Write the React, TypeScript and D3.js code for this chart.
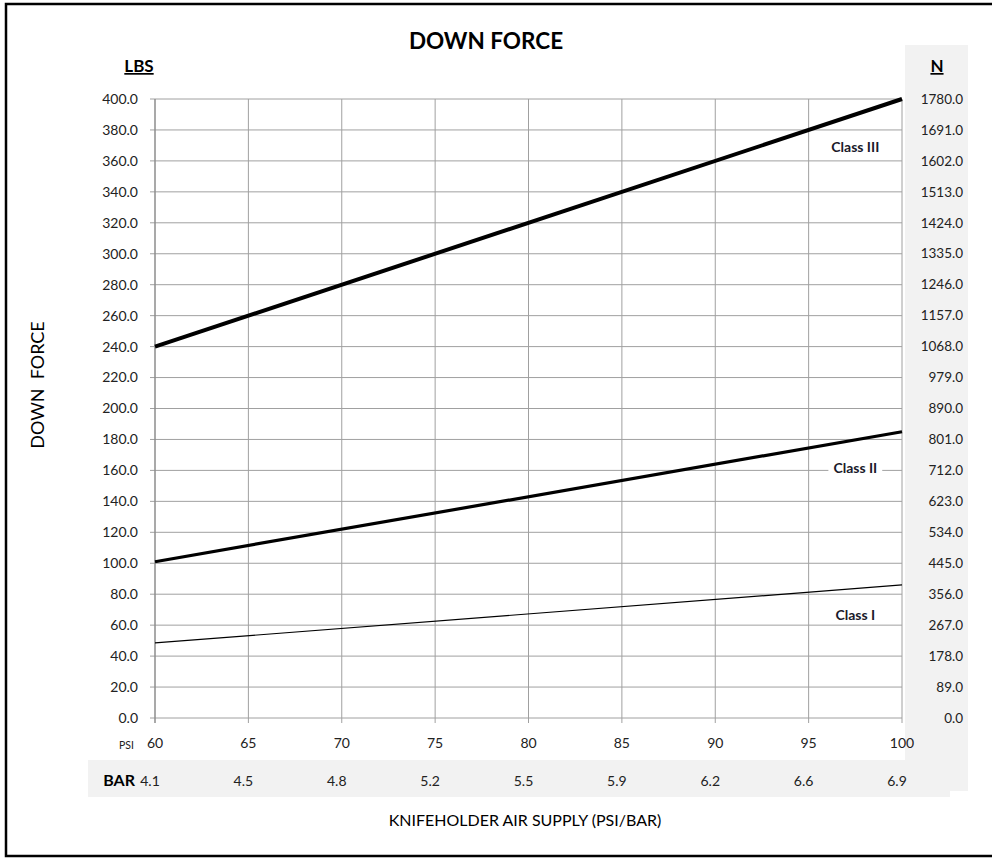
import * as d3 from "d3";
import { useEffect, useRef } from "react";

// PSI axis ticks and matching BAR labels
const psiTicks = [60, 65, 70, 75, 80, 85, 90, 95, 100];
const barLabels = ["4.1", "4.5", "4.8", "5.2", "5.5", "5.9", "6.2", "6.6", "6.9"];

// LBS axis ticks, N = LBS * 4.45
const lbsTicks = [0, 20, 40, 60, 80, 100, 120, 140, 160, 180, 200, 220, 240, 260, 280, 300, 320, 340, 360, 380, 400];
const newtonPerLb = 4.45;

// series: down force (lbs) at 60 and 100 psi
const classI = [
  { psi: 60, lbs: 48.5 },
  { psi: 100, lbs: 86 },
];
const classII = [
  { psi: 60, lbs: 101 },
  { psi: 100, lbs: 185 },
];
const classIII = [
  { psi: 60, lbs: 240 },
  { psi: 100, lbs: 400 },
];

const seriesNames = ["Class I", "Class II", "Class III"];
const seriesData = [classI, classII, classIII];
const seriesWidths = [1.2, 3.2, 4];
// label anchor points in data units
const labelAnchors = [
  { psi: 97.5, lbs: 66.5 },
  { psi: 97.5, lbs: 161.5 },
  { psi: 97.5, lbs: 369 },
];

const FONT = "Lato, 'Open Sans', sans-serif";

export default function App() {
  const ref = useRef<SVGSVGElement>(null);

  useEffect(() => {
    if (!ref.current) return;
    const width = 992;
    const height = 859;
    const svg = d3.select(ref.current);
    svg.selectAll("*").remove();
    svg.attr("width", width).attr("height", height);

    const x = d3.scaleLinear().domain([60, 100]).range([155, 902]);
    const y = d3.scaleLinear().domain([0, 400]).range([718, 99]);

    // outer frame
    svg
      .append("rect")
      .attr("x", 6)
      .attr("y", 4)
      .attr("width", 1000)
      .attr("height", 852)
      .attr("fill", "white")
      .attr("stroke", "black")
      .attr("stroke-width", 2.5);

    // grey panels (right N axis, BAR row)
    svg
      .append("rect")
      .attr("x", 905)
      .attr("y", 45)
      .attr("width", 63)
      .attr("height", 746)
      .attr("fill", "#f2f2f2");
    svg
      .append("rect")
      .attr("x", 88)
      .attr("y", 760)
      .attr("width", 862)
      .attr("height", 37)
      .attr("fill", "#f2f2f2");
    // white strip under PSI labels
    svg
      .append("rect")
      .attr("x", 88)
      .attr("y", 719)
      .attr("width", 817)
      .attr("height", 41)
      .attr("fill", "white");

    const grid = svg.append("g");
    // horizontal gridlines
    grid
      .selectAll("line.h")
      .data(lbsTicks)
      .enter()
      .append("line")
      .attr("x1", 150)
      .attr("x2", x(100))
      .attr("y1", (d) => y(d))
      .attr("y2", (d) => y(d))
      .attr("stroke", "#a0a0a0")
      .attr("stroke-width", 1);
    // vertical gridlines
    grid
      .selectAll("line.v")
      .data(psiTicks)
      .enter()
      .append("line")
      .attr("x1", (d) => x(d))
      .attr("x2", (d) => x(d))
      .attr("y1", y(400))
      .attr("y2", y(0) + 5)
      .attr("stroke", (d, i) => (i === 0 ? "#8c8c8c" : "#a0a0a0"))
      .attr("stroke-width", (d, i) => (i === 0 ? 1.5 : 1));

    // series lines
    const line = d3
      .line<{ psi: number; lbs: number }>()
      .x((d) => x(d.psi))
      .y((d) => y(d.lbs));
    seriesData.forEach((s, i) => {
      svg
        .append("path")
        .attr("d", line(s) as string)
        .attr("fill", "none")
        .attr("stroke", "black")
        .attr("stroke-width", seriesWidths[i]);
    });

    // series labels
    seriesNames.forEach((name, i) => {
      const a = labelAnchors[i];
      const g = svg.append("g").attr("transform", `translate(${x(a.psi)},${y(a.lbs)})`);
      const t = g
        .append("text")
        .text(name)
        .attr("text-anchor", "middle")
        .attr("dy", "0.35em")
        .attr("font-family", FONT)
        .attr("font-weight", "bold")
        .attr("font-size", 14)
        .attr("fill", "#1a1a2a");
      const bb = (t.node() as SVGTextElement).getBBox();
      g.insert("rect", "text")
        .attr("x", bb.x - 5)
        .attr("y", bb.y + 1)
        .attr("width", bb.width + 10)
        .attr("height", bb.height - 2)
        .attr("fill", "white");
    });

    const textColor = "#222";

    // left axis labels (LBS)
    svg
      .selectAll("text.lbs")
      .data(lbsTicks)
      .enter()
      .append("text")
      .attr("x", 138)
      .attr("y", (d) => y(d))
      .attr("dy", "0.35em")
      .attr("text-anchor", "end")
      .attr("font-family", FONT)
      .attr("font-size", 14)
      .attr("fill", textColor)
      .text((d) => d3.format(".1f")(d));

    // right axis labels (N)
    svg
      .selectAll("text.n")
      .data(lbsTicks)
      .enter()
      .append("text")
      .attr("x", 963)
      .attr("y", (d) => y(d))
      .attr("dy", "0.35em")
      .attr("text-anchor", "end")
      .attr("font-family", FONT)
      .attr("font-size", 13.5)
      .attr("fill", textColor)
      .text((d) => d3.format(".1f")(d * newtonPerLb));

    // PSI labels
    svg
      .selectAll("text.psi")
      .data(psiTicks)
      .enter()
      .append("text")
      .attr("x", (d) => x(d))
      .attr("y", 748)
      .attr("text-anchor", "middle")
      .attr("font-family", FONT)
      .attr("font-size", 14)
      .attr("fill", textColor)
      .text((d) => d);
    svg
      .append("text")
      .attr("x", 134)
      .attr("y", 749)
      .attr("text-anchor", "end")
      .attr("font-family", FONT)
      .attr("font-size", 10.5)
      .attr("fill", textColor)
      .text("PSI");

    // BAR labels
    svg
      .selectAll("text.bar")
      .data(barLabels)
      .enter()
      .append("text")
      .attr("x", (d, i) => x(psiTicks[i]) - 5)
      .attr("y", 786)
      .attr("text-anchor", "middle")
      .attr("font-family", FONT)
      .attr("font-size", 14)
      .attr("fill", textColor)
      .text((d) => d);
    svg
      .append("text")
      .attr("x", 135)
      .attr("y", 786)
      .attr("text-anchor", "end")
      .attr("font-family", FONT)
      .attr("font-weight", "bold")
      .attr("font-size", 16)
      .attr("fill", "black")
      .text("BAR");

    // titles
    svg
      .append("text")
      .attr("x", 486)
      .attr("y", 49)
      .attr("text-anchor", "middle")
      .attr("font-family", FONT)
      .attr("font-weight", "bold")
      .attr("font-size", 22.5)
      .attr("fill", "black")
      .text("DOWN FORCE");
    svg
      .append("text")
      .attr("x", 139)
      .attr("y", 72)
      .attr("text-anchor", "middle")
      .attr("font-family", FONT)
      .attr("font-weight", "bold")
      .attr("font-size", 17)
      .attr("text-decoration", "underline")
      .attr("fill", "black")
      .text("LBS");
    svg
      .append("text")
      .attr("x", 937)
      .attr("y", 72)
      .attr("text-anchor", "middle")
      .attr("font-family", FONT)
      .attr("font-weight", "bold")
      .attr("font-size", 17)
      .attr("text-decoration", "underline")
      .attr("fill", "black")
      .text("N");
    svg
      .append("text")
      .attr("transform", `translate(44,385) rotate(-90)`)
      .attr("text-anchor", "middle")
      .attr("font-family", FONT)
      .attr("font-size", 18)
      .attr("fill", "black")
      .attr("xml:space", "preserve")
      .style("white-space", "pre")
      .text("DOWN  FORCE");
    svg
      .append("text")
      .attr("x", 525)
      .attr("y", 826)
      .attr("text-anchor", "middle")
      .attr("font-family", FONT)
      .attr("font-size", 16)
      .attr("fill", "black")
      .text("KNIFEHOLDER AIR SUPPLY (PSI/BAR)");
  }, []);

  return (
    <svg
      ref={ref}
      style={{ position: "absolute", left: 0, top: 0, display: "block" }}
    ></svg>
  );
}
